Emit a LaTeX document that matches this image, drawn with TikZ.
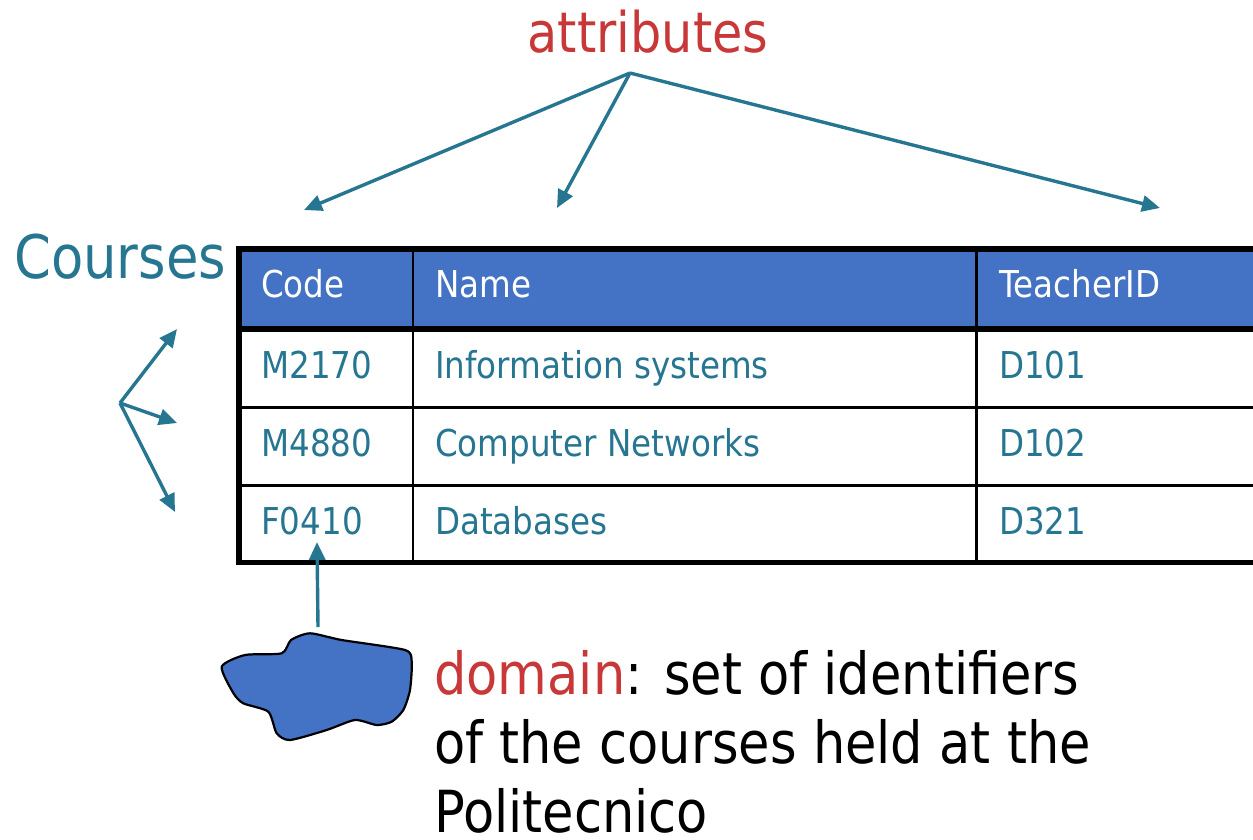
\documentclass[tikz,border=0pt]{standalone}
\usepackage{fontspec}
\setmainfont{DejaVu Sans}[FakeStretch=0.88]
\usepackage{tikz}
\usetikzlibrary{arrows.meta,positioning}

\definecolor{hdrblue}{RGB}{68,114,196}
\definecolor{tealish}{RGB}{38,118,146}
\definecolor{attrred}{RGB}{200,56,56}

\begin{document}
\begin{tikzpicture}[x=1pt, y=-1pt, >={Triangle[length=18pt,width=16pt]}, line cap=rect]
\tikzstyle{ptr}=[->, draw=tealish, line width=3.4pt, line cap=butt]
\tikzstyle{cell}=[anchor=base west, inner sep=0pt, text=tealish, font=\fontsize{37}{44}\selectfont]
\tikzstyle{head}=[cell, text=white]
\tikzstyle{domline}=[anchor=base west, inner sep=0pt, font=\fontsize{58}{70}\selectfont]

\useasboundingbox (0,0) rectangle (1253,839);

% table
\fill[hdrblue] (239,249) rectangle (1262,329);
\draw[line width=2.8pt] (239,407.5) -- (1262,407.5);
\draw[line width=2.8pt] (239,485.5) -- (1262,485.5);
\draw[line width=2.8pt] (413,249) -- (413,562.5);
\draw[line width=2.8pt] (976.5,249) -- (976.5,562.5);
\draw[line width=5.5pt] (239,329) -- (1262,329);
\draw[line width=5.5pt] (1262,249) -- (239,249) -- (239,562.5) -- (1262,562.5);

\node[head] (code)  at (261,297) {Code};
\node[head] (name)  at (435,297) {Name};
\node[head] (tid)   at (999,297) {TeacherID};

\node[cell] (c1) at (261,378) {M2170};
\node[cell] (n1) at (435,378) {Information systems};
\node[cell] (t1) at (999,378) {D101};
\node[cell] (c2) at (261,456) {M4880};
\node[cell] (n2) at (435,456) {Computer Networks};
\node[cell] (t2) at (999,456) {D102};
\node[cell] (c3) at (261,534) {F0410};
\node[cell] (n3) at (435,534) {Databases};
\node[cell] (t3) at (999,534) {D321};

% labels
\node[anchor=base, inner sep=0pt, text=attrred, font=\fontsize{56}{60}\selectfont] (attr) at (648,52) {attributes};
\node[anchor=base west, inner sep=0pt, text=tealish, font=\fontsize{60}{66}\selectfont] (rel) at (14,278) {Courses};
\node[domline] (dom1) at (434,694) {\textcolor{attrred}{domain}: set of identifiers};
\node[domline] (dom2) at (434,763) {of the courses held at the};
\node[domline] (dom3) at (434,832) {Politecnico};

% domain blob
\draw[fill=hdrblue, line width=2.2pt, line cap=round, line join=round] plot[smooth cycle, tension=0.4] coordinates {
	(221.7,666.7) (245,655) (281.7,653.3) (291,640) (310,633.3) (341.7,640)
	(405,650) (411.7,662) (410,690) (403.3,710) (391.7,721.7) (376.7,725) (355,720)
	(326.7,730) (290,740) (276.7,733.3) (268.3,711.7) (243.3,703.3) (233.3,693)};
\coordinate (blobtop) at (318,627);

% arrows
\coordinate (asrc) at (630,73);
\coordinate (a1) at (304,210);
\coordinate (a2) at (557,208);
\coordinate (a3) at (1160,208);
\coordinate (rsrc) at (120,403);
\coordinate (r1) at (177,329);
\coordinate (r2) at (177,423);
\coordinate (r3) at (175,512);
\coordinate (dtip) at (317,542);

\draw[ptr] (asrc) -- (a1);
\draw[ptr] (asrc) -- (a2);
\draw[ptr] (asrc) -- (a3);
\draw[ptr] (rsrc) -- (r1);
\draw[ptr] (rsrc) -- (r2);
\draw[ptr] (rsrc) -- (r3);
\draw[ptr] (blobtop) -- (dtip);

\end{tikzpicture}
\end{document}
